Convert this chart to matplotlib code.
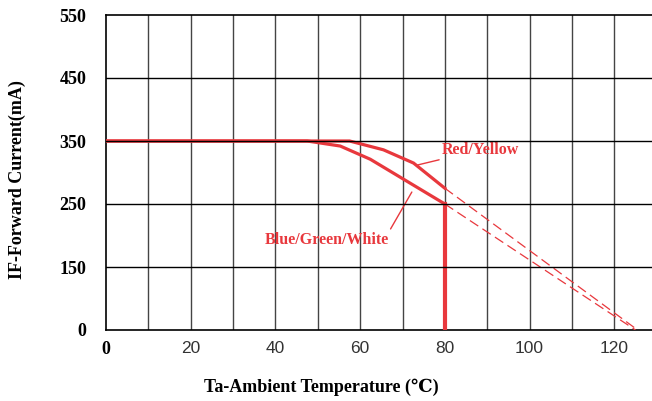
import numpy as np
import matplotlib
matplotlib.use("Agg")
import matplotlib.pyplot as plt

# y axis in the datasheet is not linear: the labelled steps are evenly spaced
y_ticks = [0, 150, 250, 350, 450, 550]
x_ticks = [0, 20, 40, 60, 80, 100, 120]
x_grid = [0, 10, 20, 30, 40, 50, 60, 70, 80, 90, 100, 110, 120]

# derating curves (Ta in C, IF in mA)
red_t = [0, 57.5, 65.5, 72.6, 80]
red_i = [350, 350, 336, 315, 275]
blue_t = [0, 47.5, 55.3, 62.4, 80]
blue_i = [350, 350, 342, 321, 250]
# dashed extrapolation to zero current
red_ext_t = [80, 125.5]
red_ext_i = [275, 0]
blue_ext_t = [80, 125]
blue_ext_i = [250, 0]
cutoff_t = [80, 80]
cutoff_i = [250, 0]

RED = "#e8383d"
SERIF = ["Liberation Serif", "DejaVu Serif"]


def ypos(v):
    return np.interp(v, y_ticks, np.arange(len(y_ticks)))


fig = plt.figure(figsize=(6.52, 4.01), dpi=100)
ax = fig.add_axes([106 / 652, 71 / 401, 546 / 652, 315 / 401])
ax.set_xlim(0, 546 / 4.236)
ax.set_ylim(0, len(y_ticks) - 1)

for x in x_grid[1:]:
    ax.axvline(x, color="#444444", lw=1.0, zorder=1)
for i in range(1, len(y_ticks) - 1):
    ax.axhline(i, color="black", lw=1.0, zorder=4)

ax.plot(red_t, ypos(red_i), color=RED, lw=2.3, zorder=3, solid_joinstyle="miter")
ax.plot(blue_t, ypos(blue_i), color=RED, lw=2.3, zorder=3, solid_joinstyle="miter")
ax.plot(cutoff_t, ypos(cutoff_i), color=RED, lw=3.0, zorder=3)
ax.plot(red_ext_t, ypos(red_ext_i), color=RED, lw=0.9, ls=(0, (8, 4)), zorder=3)
ax.plot(blue_ext_t, ypos(blue_ext_i), color=RED, lw=0.9, ls=(0, (8, 4)), zorder=3)

# labels with leader lines
ax.annotate("Red/Yellow", xy=(73.6, ypos(312)), xytext=(79.3, ypos(336)),
            color=RED, fontsize=11.5, fontweight="bold", family=SERIF,
            va="center", ha="left",
            arrowprops=dict(arrowstyle="-", color=RED, lw=1.0, shrinkA=0, shrinkB=0))
ax.annotate("Blue/Green/White", xy=(72.2, ypos(269)), xytext=(66.8, ypos(206)),
            color=RED, fontsize=11.5, fontweight="bold", family=SERIF,
            va="top", ha="right",
            arrowprops=dict(arrowstyle="-", color=RED, lw=1.0, shrinkA=0, shrinkB=0,
                            relpos=(1.0, 1.0)))

for side in ["left", "top", "bottom"]:
    ax.spines[side].set_color("black")
    ax.spines[side].set_linewidth(1.2)
ax.spines["right"].set_visible(False)

ax.set_yticks(range(len(y_ticks)))
ax.set_yticklabels([str(v) for v in y_ticks], family=SERIF, fontweight="bold", fontsize=13)
ax.tick_params(axis="y", length=0, pad=14)

ax.set_xticks(x_ticks)
ax.set_xticklabels([str(v) for v in x_ticks], family="Liberation Sans", fontsize=12.5,
                   color="#333333")
ax.tick_params(axis="x", length=0, pad=8)
lbl0 = ax.get_xticklabels()[0]
lbl0.set_family(SERIF)
lbl0.set_fontweight("bold")
lbl0.set_color("black")
lbl0.set_fontsize(13)
lbl0.set_x(-1.2)

fig.text(17 / 652, 1 - 180 / 401, "IF-Forward Current(mA)", rotation=90,
         ha="center", va="center", family=SERIF, fontweight="bold", fontsize=13)
fig.text(321 / 652, 1 - 387 / 401, "Ta-Ambient Temperature (\u2103)",
         ha="center", va="center", family=SERIF, fontweight="bold", fontsize=13)

fig.savefig("out.png", dpi=100)
